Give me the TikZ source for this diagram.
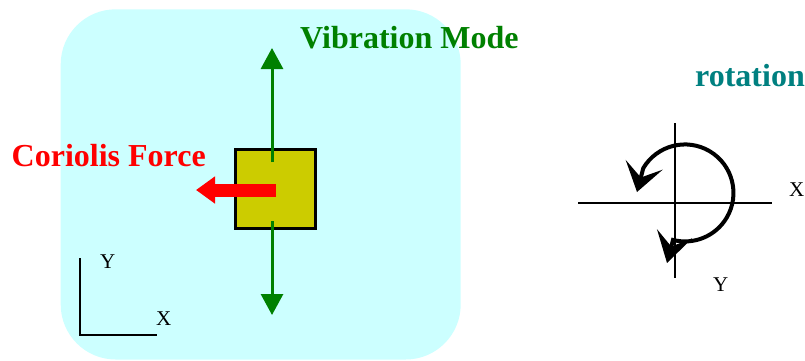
\documentclass[tikz,border=0pt]{standalone}
\usepackage{fontspec}
\setmainfont{Liberation Serif}
\usetikzlibrary{arrows.meta}
\definecolor{bgcyan}{HTML}{CCFFFF}
\definecolor{massyel}{HTML}{CCCC00}
\definecolor{vibgreen}{HTML}{008000}
\definecolor{rotteal}{HTML}{008080}
\definecolor{forcered}{HTML}{FF0000}
\tikzset{
  bigtitle/.style={font=\fontsize{32}{35}\selectfont\bfseries, inner sep=0pt, anchor=base west},
  axlabel/.style={font=\fontsize{21}{23}\selectfont, inner sep=0pt, anchor=base west},
  vibarrow/.style={draw=vibgreen, line width=3pt, -{Triangle[length=21pt,width=22pt]}},
  rotarrow/.style={line width=4pt, {Stealth[length=28pt,width=38pt,inset=13pt]}-{Stealth[length=30pt,width=36pt,inset=13pt]}},
}
\begin{document}
\begin{tikzpicture}[x=1pt,y=-1pt]
\useasboundingbox (0,0) rectangle (805,360);
% background plate
\fill[bgcyan, rounded corners=55pt] (60.7,9.3) rectangle (460.7,359.5);
% proof mass
\node[draw=black, fill=massyel, line width=2.5pt, minimum width=80pt, minimum height=79pt, inner sep=0pt] (mass) at (275.5,189) {};
% vibration arrows
\coordinate (vtopstart) at (272,162);
\coordinate (vtoptip) at (272,48);
\coordinate (vbotstart) at (272,221);
\coordinate (vbottip) at (272,315);
\draw[vibarrow] (vtopstart) -- (vtoptip);
\draw[vibarrow] (vbotstart) -- (vbottip);
% coriolis arrow
\coordinate (cstart) at (276,190);
\coordinate (ctip) at (196,190);
\draw[forcered, line width=13pt, -{Triangle[length=19pt,width=26pt]}] (cstart) -- (ctip);
% titles
\node[bigtitle, text=vibgreen] (vibtitle) at (300,48) {Vibration Mode};
\node[bigtitle, text=forcered] (cortitle) at (11.5,166) {Coriolis Force};
\node[bigtitle, text=rotteal] (rottitle) at (695,86.5) {rotation};
% left axes
\coordinate (lax) at (80,258);
\coordinate (lorigin) at (80,335);
\coordinate (lay) at (157,335);
\draw[line width=1.8pt] (lax) -- (lorigin) -- (lay);
\node[axlabel] (ly) at (100,268) {Y};
\node[axlabel] (lx) at (156,325) {X};
% right axes
\coordinate (rh1) at (578,203);
\coordinate (rh2) at (772,203);
\coordinate (rv1) at (675,123);
\coordinate (rv2) at (675,278);
\draw[line width=1.3pt] (rh1) -- (rh2);
\draw[line width=1.3pt] (rv1) -- (rv2);
\node[axlabel] (rx) at (789,196.5) {X};
\node[axlabel] (ry) at (713,291.5) {Y};
% rotation arc
\coordinate (rtip1) at (637,192);
\coordinate (rarcstart) at (643.3,168.1);
\coordinate (rtip2) at (667,263);
\draw[rotarrow] (rtip1) -- (rarcstart) arc[start angle=210.8, end angle=464.3, radius=48.5] -- (rtip2);
\end{tikzpicture}
\end{document}
